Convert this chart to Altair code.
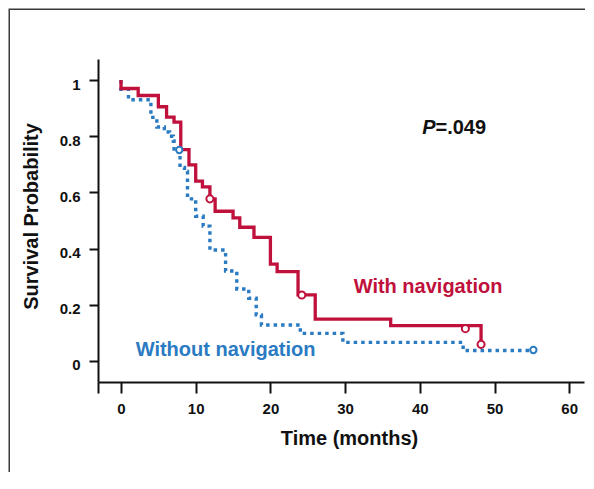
import altair as alt
import pandas as pd

# ---- data ----
with_t = [0, 0, 2.3, 5.0, 6.1, 7.1, 8.0, 9.1, 10.0, 10.9, 11.9, 12.6, 15.0, 15.9,
          17.8, 20.0, 20.9, 23.7, 26.0, 36.1, 48.2]
with_s = [1.0, 0.97, 0.945, 0.905, 0.868, 0.85, 0.752, 0.698, 0.64, 0.62, 0.577,
          0.533, 0.509, 0.476, 0.44, 0.345, 0.318, 0.235, 0.149, 0.126, 0.058]

without_t = [0, 0, 1.0, 4.0, 4.8, 5.8, 6.5, 7.0, 7.1, 7.9, 8.5, 8.9, 10.0, 11.0,
             11.9, 14.0, 15.5, 17.1, 18.1, 18.8, 24.0, 29.7, 45.8, 55.2]
without_s = [1.0, 0.967, 0.93, 0.867, 0.833, 0.815, 0.80, 0.783, 0.754, 0.689,
             0.675, 0.577, 0.515, 0.48, 0.395, 0.32, 0.256, 0.223, 0.164, 0.128,
             0.098, 0.066, 0.037, 0.037]

with_cens_t = [11.9, 24.2, 46.1, 48.2]
with_cens_s = [0.577, 0.235, 0.115, 0.059]
without_cens_t = [7.8, 55.2]
without_cens_s = [0.751, 0.039]

x_ticks = [0, 10, 20, 30, 40, 50, 60]
y_ticks = [0, 0.2, 0.4, 0.6, 0.8, 1]

label_with = "With navigation"
label_without = "Without navigation"
p_prefix = "P"
p_value = "=.049"

# annotation anchor positions (data units)
with_label_pos = (41.1, 0.241)
without_label_pos = (14.0, 0.018)
p_pos = (42.1, 0.808)

# ---- styling ----
RED = "#c0103c"
BLUE = "#2b7bc3"
INK = "#111111"
FRAME = "#3a3a3a"
FONT = "Liberation Sans"
W, H = 486, 323
X_DOMAIN = [-3.08, 61.98]
Y_DOMAIN = [-0.075, 1.075]
PAD = {"left": 90, "top": 51, "right": 1, "bottom": 90}

xs = alt.Scale(domain=X_DOMAIN, nice=False, zero=False)
ys = alt.Scale(domain=Y_DOMAIN, nice=False, zero=False)

x_axis = alt.Axis(
    values=[X_DOMAIN[0]] + x_ticks,
    labelExpr="datum.value < 0 ? '' : datum.label",
    title="Time (months)", grid=False,
    tickSize=11, tickWidth=2, domainWidth=2, domainColor=INK, tickColor=INK,
    labelFont=FONT, labelFontSize=15, labelFontWeight="bold", labelColor=INK,
    labelPadding=8,
    titleFont=FONT, titleFontSize=20, titleFontWeight="bold", titleColor=INK,
    titleX=251, titleY=56, titleBaseline="middle", titleAlign="center",
)
y_axis = alt.Axis(
    values=y_ticks, format="~g",
    title="Survival Probability", grid=False,
    tickSize=9, tickWidth=2, domainWidth=2, domainColor=INK, tickColor=INK,
    labelFont=FONT, labelFontSize=15, labelFontWeight="bold", labelColor=INK,
    labelPadding=9, labelOffset=4,
    titleFont=FONT, titleFontSize=20, titleFontWeight="bold", titleColor=INK,
    titleAngle=270, titleX=-67, titleY=157, titleBaseline="middle", titleAlign="center",
)

X = lambda: alt.X("t:Q", scale=xs, axis=x_axis)
Y = lambda: alt.Y("s:Q", scale=ys, axis=y_axis)

df_with = pd.DataFrame({"t": with_t, "s": with_s})
df_without = pd.DataFrame({"t": without_t, "s": without_s})
df_wc = pd.DataFrame({"t": with_cens_t, "s": with_cens_s})
df_woc = pd.DataFrame({"t": without_cens_t, "s": without_cens_s})

dummy = alt.Data(values=[{}])
# outer figure frame: right and bottom edges fall outside the canvas
frame = alt.Chart(dummy).mark_rect(
    fill="transparent", stroke=FRAME, strokeWidth=1.5).encode(
    x=alt.value(-88.75), x2=alt.value(W + 60),
    y=alt.value(-49.75), y2=alt.value(H + 160))

line_without = alt.Chart(df_without).mark_line(
    interpolate="step-after", color=BLUE, strokeWidth=3.4, strokeDash=[3.5, 4],
    strokeCap="butt").encode(x=X(), y=Y())
line_with = alt.Chart(df_with).mark_line(
    interpolate="step-after", color=RED, strokeWidth=3.3, strokeJoin="miter").encode(x=X(), y=Y())

cens_without = alt.Chart(df_woc).mark_point(
    shape="circle", filled=True, fill="white", stroke=BLUE, strokeWidth=2,
    size=40, opacity=1).encode(x=X(), y=Y())
cens_with = alt.Chart(df_wc).mark_point(
    shape="circle", filled=True, fill="white", stroke=RED, strokeWidth=2,
    size=50, opacity=1).encode(x=X(), y=Y())

def text_layer(label, pos, color, align, style="normal"):
    d = pd.DataFrame({"t": [pos[0]], "s": [pos[1]], "label": [label]})
    return alt.Chart(d).mark_text(
        font=FONT, fontSize=20, fontWeight="bold", fontStyle=style, color=color,
        align=align, baseline="alphabetic").encode(x=X(), y=Y(), text="label:N")

t_with = text_layer(label_with, with_label_pos, RED, "center")
t_without = text_layer(label_without, without_label_pos, BLUE, "center")
t_p = text_layer(p_prefix, p_pos, INK, "right", "italic")
t_pv = text_layer(p_value, p_pos, INK, "left")

chart = alt.layer(
    frame, line_without, line_with, cens_without, cens_with,
    t_with, t_without, t_p, t_pv
).properties(
    width=W, height=H, padding=PAD, background="white",
    autosize=alt.AutoSizeParams(type="none"),
).configure_view(stroke=None)

chart.save("out.html", embed_options={"renderer": "svg", "actions": False})
